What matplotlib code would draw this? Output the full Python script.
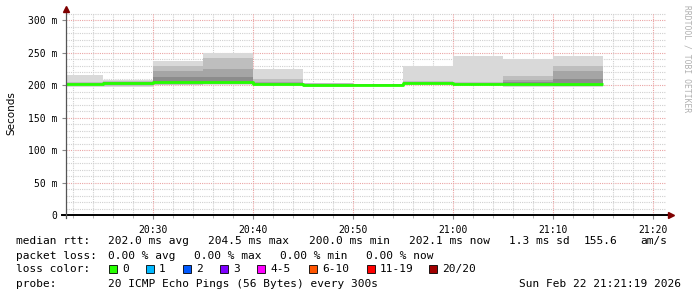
import matplotlib
matplotlib.use("Agg")
import matplotlib.pyplot as plt
from matplotlib.patches import Rectangle
from matplotlib.lines import Line2D

# ---------------- data (ms) ----------------
# interval end times (minutes after 20:00), each interval = 5 minutes
interval_end = [25, 30, 35, 40, 45, 50, 55, 60, 65, 70, 75]
ping_min = [197.5, 197.0, 199.5, 199.5, 198.5, 197.0, 199.5, 200.0, 199.5, 197.5, 197.0]
ping_p10 = [199.5, 199.0, 200.5, 201.0, 200.0, 198.0, 200.0, 201.0, 200.0, 199.0, 198.0]
ping_p25 = [200.5, 200.0, 201.5, 202.0, 200.5, 198.5, 200.2, 202.0, 200.5, 200.0, 198.5]
ping_p40 = [201.0, 201.0, 203.0, 203.0, 201.0, 199.0, 200.4, 202.5, 200.8, 200.5, 199.0]
median   = [201.5, 203.0, 204.5, 204.0, 201.5, 200.0, 200.5, 203.0, 201.0, 201.5, 202.1]
ping_p60 = [202.0, 204.0, 212.0, 212.0, 203.0, 201.5, 200.8, 203.5, 202.0, 204.0, 210.0]
ping_p75 = [203.0, 205.0, 222.0, 225.0, 205.0, 202.0, 201.0, 204.0, 202.5, 207.0, 222.0]
ping_p90 = [205.0, 206.5, 230.0, 241.0, 210.0, 202.5, 201.2, 206.0, 204.0, 214.0, 230.0]
ping_max = [215.0, 208.0, 237.0, 250.0, 224.0, 203.0, 201.5, 230.0, 244.5, 240.0, 244.5]

window_start = 21 + 19 / 60.0      # 20:21:19
window_end = 81 + 19 / 60.0        # 21:21:19
step_minutes = 5

y_ticks = [0, 50, 100, 150, 200, 250, 300]
y_tick_labels = ["0", "50 m", "100 m", "150 m", "200 m", "250 m", "300 m"]
x_tick_labels = ["20:30", "20:40", "20:50", "21:00", "21:10", "21:20"]

loss_labels = ["0", "1", "2", "3", "4-5", "6-10", "11-19", "20/20"]
loss_colors = ["#26ff00", "#00b8ff", "#0059ff", "#7e00ff", "#ff00ff", "#ff5500", "#ff0000", "#a10000"]

# ---------------- figure ----------------
W, H = 697, 297
fig = plt.figure(figsize=(W / 100, H / 100), dpi=100)
fig.patch.set_facecolor("white")

def fx(px):
    return px / W

def fy(py):
    return 1 - py / H

x0, x1 = 66, 666
y0, y1 = 215, 13
ax = fig.add_axes([fx(x0), fy(y0), (x1 - x0) / W, (y0 - y1) / H])
ax.set_facecolor("white")
ax.set_xlim(window_start, window_end)
ax.set_ylim(0, (y0 - y1) / 0.65)
for s in ax.spines.values():
    s.set_visible(False)

mono = "DejaVu Sans Mono"

# grid
minor_c = "#d0d0d0"
major_c = "#eaa4a4"
dot = (0, (1, 1))
for v in range(10, 311, 10):
    if v % 50 == 0:
        continue
    ax.axhline(v, color=minor_c, lw=0.8, ls=dot, zorder=1)
for v in range(50, 301, 50):
    ax.axhline(v, color=major_c, lw=0.8, ls=dot, zorder=1)
for m in range(22, 82, 2):
    if m % 10 == 0:
        continue
    ax.axvline(m, color=minor_c, lw=0.8, ls=dot, zorder=1)
major_x = [int(l[:2]) * 60 + int(l[3:]) - 20 * 60 for l in x_tick_labels]
for m in major_x:
    ax.axvline(m, color=major_c, lw=0.8, ls=dot, zorder=1)

# smoke
layers = [
    (ping_min, ping_max, "#d9d9d9"),
    (ping_p10, ping_p90, "#bebebe"),
    (ping_p25, ping_p75, "#a5a5a5"),
    (ping_p40, ping_p60, "#8c8c8c"),
]
for lo, hi, col in layers:
    for i, end in enumerate(interval_end):
        start = end - step_minutes
        ax.bar(start, hi[i] - lo[i], width=step_minutes, bottom=lo[i],
               align="edge", color=col, linewidth=0, zorder=2)

# median line (0 % loss colour)
xs, ys = [], []
for i, end in enumerate(interval_end):
    xs += [end - step_minutes, end]
    ys += [median[i], median[i]]
ax.plot(xs, ys, color=loss_colors[0], lw=2.0, solid_capstyle="butt", zorder=4)

# ticks
ax.set_yticks(y_ticks)
ax.set_yticklabels(y_tick_labels, fontfamily=mono, fontsize=7)
ax.set_xticks(major_x)
ax.set_xticklabels(x_tick_labels, fontfamily=mono, fontsize=7)
ax.tick_params(axis="y", length=3, width=0.8, color="#888888", pad=3)
ax.tick_params(axis="x", length=3, width=0.8, color="#888888", pad=4)
ax.set_xticks(range(22, 82, 2), minor=True)
ax.set_yticks(range(10, 311, 10), minor=True)
ax.tick_params(axis="x", which="minor", length=2, width=0.6, color="#aaaaaa")
ax.tick_params(axis="y", which="minor", length=0)

# axis lines with arrows
fig.add_artist(Line2D([fx(62), fx(669)], [fy(215), fy(215)], color="black", lw=1.4))
fig.add_artist(Line2D([fx(66), fx(66)], [fy(218), fy(11)], color="#555555", lw=0.9))
fig.add_artist(Line2D([fx(671)], [fy(215)], marker=">", ms=4, color="#7f0000", lw=0))
fig.add_artist(Line2D([fx(66)], [fy(9)], marker="^", ms=4, color="#7f0000", lw=0))

# y label and watermark
fig.text(fx(11), fy(113), "Seconds", rotation=90, ha="center", va="center",
         fontsize=7.5, family="DejaVu Sans")
fig.text(fx(687), fy(59), "RRDTOOL / TOBI OETIKER", rotation=-90, ha="center",
         va="center", fontsize=5.8, family=mono, color="#b0b0b0")

# legend text
fs = 8.0
def t(px, py, s, **kw):
    fig.text(fx(px), fy(py), s, fontsize=fs, family=mono, va="center", **kw)

t(16, 241, "median rtt:")
t(108, 241, "202.0 ms avg")
t(208, 241, "204.5 ms max")
t(309, 241, "200.0 ms min")
t(409, 241, "202.1 ms now")
t(509, 241, "1.3 ms sd")
t(584, 241, "155.6")
t(640, 241, "am/s")

t(16, 256, "packet loss:")
t(108, 256, "0.00 % avg")
t(194, 256, "0.00 % max")
t(280, 256, "0.00 % min")
t(366, 256, "0.00 % now")

t(16, 269, "loss color:")
box_x = [109, 146, 183, 220, 257, 309, 367, 429]
for bx, lab, col in zip(box_x, loss_labels, loss_colors):
    fig.add_artist(Rectangle((fx(bx), fy(273)), 8 / W, 8 / H, transform=fig.transFigure,
                             facecolor=col, edgecolor="black", lw=0.6))
    t(bx + 13, 269, lab)

t(16, 284, "probe:")
t(108, 284, "20 ICMP Echo Pings (56 Bytes) every 300s")
t(681, 284, "Sun Feb 22 21:21:19 2026", ha="right")

fig.savefig("out.png", dpi=100, facecolor="white")
